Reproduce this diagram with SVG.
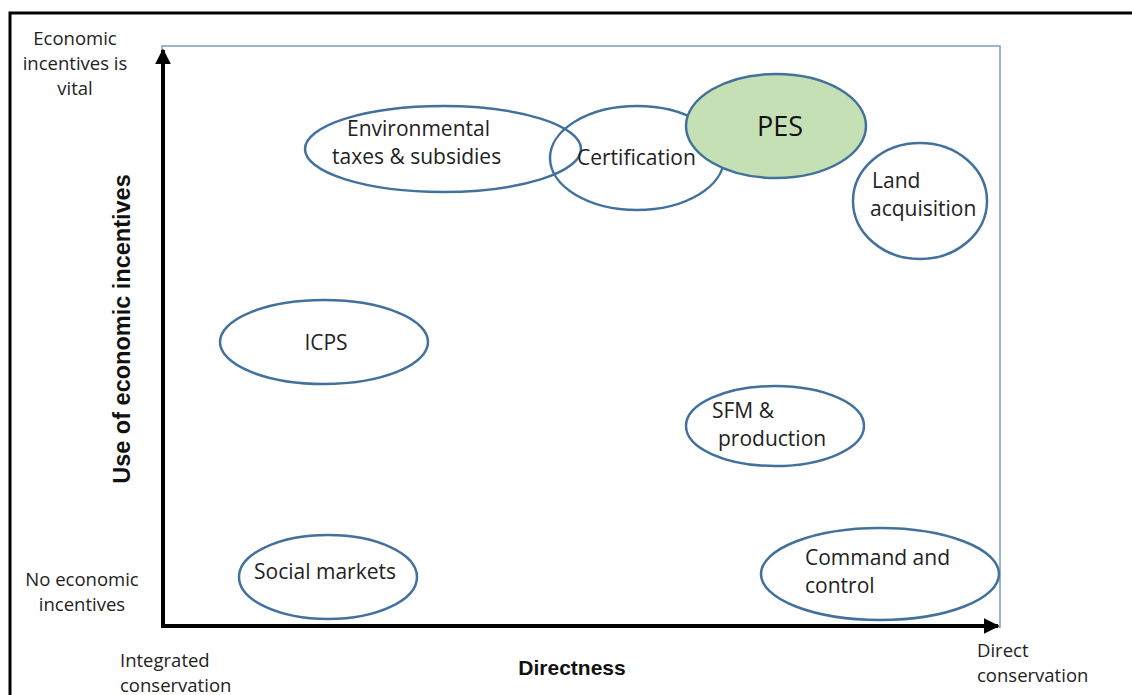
<svg xmlns="http://www.w3.org/2000/svg" width="1132" height="695" viewBox="0 0 1132 695">
<style>
.n{fill:#fff;stroke:#41719c;stroke-width:2.5}
.t{font-family:"Open Sans","Liberation Sans",Arial,sans-serif;font-size:21px;fill:#222}
.s{font-family:"Open Sans","Liberation Sans",Arial,sans-serif;font-size:18.5px;fill:#222}
.b{font-family:"Liberation Sans",Arial,sans-serif;font-size:21px;font-weight:bold;fill:#111}
</style>
<defs>
<marker id="ah" viewBox="0 0 10 10" refX="9" refY="5" markerWidth="4" markerHeight="4" orient="auto" markerUnits="strokeWidth">
<path d="M0,0 L10,5 L0,10 z" fill="#000"/>
</marker>
</defs>
<rect width="1132" height="695" fill="#fff"/>
<path d="M10,695 V13 H1132" fill="none" stroke="#000" stroke-width="3"/>
<rect x="162" y="46" width="838" height="581" fill="none" stroke="#7a9cc0" stroke-width="1.5"/>
<g id="connectors">
<line x1="163" y1="628" x2="163" y2="50" stroke="#000" stroke-width="4" marker-end="url(#ah)"/>
<line x1="161" y1="626" x2="998" y2="626" stroke="#000" stroke-width="4" marker-end="url(#ah)"/>
</g>
<g id="env"><ellipse class="n" cx="443" cy="149" rx="138" ry="43" style="fill:none"/>
<text class="t" x="347" y="136">Environmental</text><text class="t" x="332" y="164">taxes &amp; subsidies</text></g>
<g id="cert"><ellipse class="n" cx="637" cy="158" rx="87" ry="52" style="fill:none"/>
<text class="t" x="577" y="165">Certification</text></g>
<g id="pes"><ellipse class="n" cx="776" cy="126" rx="90" ry="52" style="fill:#c5e0b4"/>
<text class="t" x="780" y="136" text-anchor="middle" style="font-size:27px;fill:#111">PES</text></g>
<g id="land"><ellipse class="n" cx="920" cy="201" rx="67" ry="58"/>
<text class="t" x="872" y="188">Land</text><text class="t" x="870" y="216">acquisition</text></g>
<g id="icps"><ellipse class="n" cx="324" cy="342" rx="104" ry="42"/>
<text class="t" x="326" y="350" text-anchor="middle">ICPS</text></g>
<g id="sfm"><ellipse class="n" cx="775" cy="426" rx="89" ry="40"/>
<text class="t" x="712" y="418">SFM &amp;</text><text class="t" x="718" y="446">production</text></g>
<g id="social"><ellipse class="n" cx="328" cy="577" rx="89" ry="42"/>
<text class="t" x="325" y="579" text-anchor="middle">Social markets</text></g>
<g id="cmd"><ellipse class="n" cx="880" cy="574" rx="119" ry="46"/>
<text class="t" x="805" y="565">Command and</text><text class="t" x="805" y="593">control</text></g>
<g id="labels">
<text class="s" x="75" y="45" text-anchor="middle">Economic</text>
<text class="s" x="75" y="70" text-anchor="middle">incentives is</text>
<text class="s" x="75" y="95" text-anchor="middle">vital</text>
<text class="s" x="82" y="586" text-anchor="middle">No economic</text>
<text class="s" x="82" y="611" text-anchor="middle">incentives</text>
<text class="s" x="120" y="667">Integrated</text>
<text class="s" x="120" y="692">conservation</text>
<text class="s" x="977" y="657">Direct</text>
<text class="s" x="977" y="682">conservation</text>
<text class="b" x="572" y="675" text-anchor="middle">Directness</text>
<text class="b" transform="translate(130,329) rotate(-90)" text-anchor="middle" style="font-size:23.5px">Use of economic incentives</text>
</g>
</svg>
